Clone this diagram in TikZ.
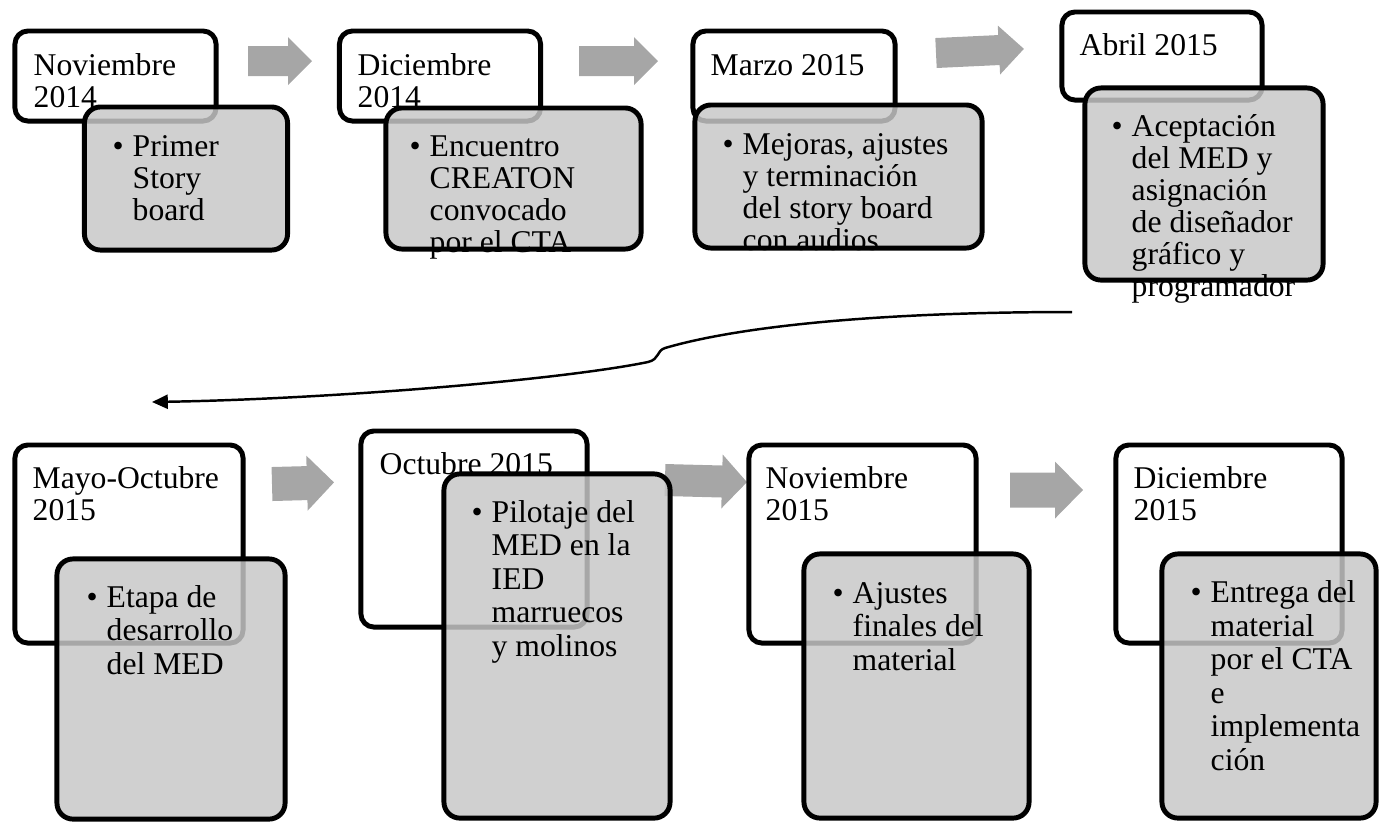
\documentclass[tikz,border=0pt]{standalone}
\usepackage{fontspec}
\setmainfont{Liberation Serif}
\usetikzlibrary{arrows.meta}

\definecolor{taskgray}{RGB}{199,199,199}
\definecolor{arrowgray}{RGB}{166,166,166}

\tikzset{
  datebox/.style={draw=black, line width=1.4pt, fill=white, rounded corners=0.13cm, inner sep=0pt},
  taskbox/.style={draw=black, line width=1.4pt, fill=taskgray, fill opacity=0.84, rounded corners=0.16cm, inner sep=0pt},
  % base west of a multi-line node = baseline of its last line
  datetext/.style={anchor=base west, inner sep=0pt, align=left, font=\fontsize{9pt}{9.1pt}\selectfont},
  tasktext/.style={datetext},
  widetext/.style={datetext, font=\fontsize{9pt}{9.5pt}\selectfont},
  blockarrow/.style={fill=arrowgray},
  curvearrow/.style={line width=0.7pt, -{Triangle[length=4.5pt,width=4pt]}}
}

\newcommand{\itembullet}{\llap{\makebox[0.2cm][l]{\textbullet}}}

\begin{document}
\begin{tikzpicture}[x=0.01cm, y=-0.01cm]
  \useasboundingbox (0,0) rectangle (1382,823);

  % gray block arrows between the steps
  \foreach \ax/\ay/\al/\ah/\bw/\hw/\rot in {248/61/64/24/15/24/0, 579/61/79/24/15/24/0,
      936/53/88/25/15/24.5/2.7, 272/484/62/27/17/27.5/1.5, 665/480/82/25/16/27/-1.5,
      1010/490/73/28/17.5/28.5/0}
    \fill[blockarrow, shift={(\ax,\ay)}, rotate=\rot] (0,-\bw) -- (\al-\ah,-\bw) -- (\al-\ah,-\hw)
      -- (\al,0) -- (\al-\ah,\hw) -- (\al-\ah,\bw) -- (0,\bw) -- cycle;

  % first row
  \node[datebox, minimum width=2.01cm, minimum height=0.90cm] (d1) at (115.5,76) {};
  \node[datetext] (l1) at (33,107) {Noviembre\\2014};
  \node[taskbox, minimum width=2.03cm, minimum height=1.43cm] (g1) at (186,178.5) {};
  \node[tasktext] (s1) at (132,220) {\itembullet Primer\\Story\\board};

  \node[datebox, minimum width=2.01cm, minimum height=0.90cm] (d2) at (440,76) {};
  \node[datetext] (l2) at (357,107) {Diciembre\\2014};
  \node[taskbox, minimum width=2.55cm, minimum height=1.41cm] (g2) at (513.5,178.5) {};
  \node[tasktext] (s2) at (429,252) {\itembullet Encuentro\\CREATON\\convocado\\por el CTA};

  \node[datebox, minimum width=2.02cm, minimum height=0.90cm] (d3) at (794,76) {};
  \node[datetext] (l3) at (710,75) {Marzo 2015};
  \node[taskbox, minimum width=2.87cm, minimum height=1.43cm] (g3) at (838.5,176.5) {};
  \node[tasktext] (s3) at (742,250) {\itembullet Mejoras, ajustes\\y terminación\\del story board\\con audios};

  \node[datebox, minimum width=2.00cm, minimum height=0.88cm] (d4) at (1162,56) {};
  \node[datetext] (l4) at (1079,55) {Abril 2015};
  \node[taskbox, minimum width=2.38cm, minimum height=1.92cm] (g4) at (1204,184) {};
  \node[tasktext] (s4) at (1131,296) {\itembullet Aceptación\\del MED y\\asignación\\de diseñador\\gráfico y\\programador};

  % connector down to the second row
  \coordinate (cfrom) at (1072,312);
  \coordinate (cto) at (152,402);
  \draw[curvearrow] (cfrom) .. controls (880,312) and (740,326) .. (665,348)
    .. controls (656,351) and (660,359) .. (648,362)
    .. controls (560,380) and (330,399) .. (cto);

  % second row
  \node[datebox, minimum width=2.28cm, minimum height=1.98cm] (d5) at (129,544) {};
  \node[datetext] (l5) at (32,520) {Mayo-Octubre\\2015};
  \node[taskbox, minimum width=2.28cm, minimum height=2.60cm] (g5) at (171,689) {};
  \node[widetext] (s5) at (106,674) {\itembullet Etapa de\\desarrollo\\del MED};

  \node[datebox, minimum width=2.26cm, minimum height=1.96cm] (d6) at (474,529) {};
  \node[datetext] (l6) at (379,474) {Octubre 2015};
  \node[taskbox, minimum width=2.26cm, minimum height=3.44cm] (g6) at (557,646) {};
  \node[widetext] (s6) at (491,656) {\itembullet Pilotaje del\\MED en la\\IED\\marruecos\\y molinos};

  \node[datebox, minimum width=2.27cm, minimum height=1.98cm] (d7) at (862.5,544) {};
  \node[datetext] (l7) at (765,520) {Noviembre\\2015};
  \node[taskbox, minimum width=2.25cm, minimum height=2.64cm] (g7) at (916.5,686) {};
  \node[widetext] (s7) at (852,670) {\itembullet Ajustes\\finales del\\material};

  \node[datebox, minimum width=2.26cm, minimum height=1.98cm] (d8) at (1229,544) {};
  \node[datetext] (l8) at (1133,520) {Diciembre\\2015};
  \node[taskbox, minimum width=2.14cm, minimum height=2.64cm] (g8) at (1269,686) {};
  \node[widetext] (s8) at (1210,770) {\itembullet Entrega del\\material\\por el CTA\\e\\implementa\\ción};
\end{tikzpicture}
\end{document}
